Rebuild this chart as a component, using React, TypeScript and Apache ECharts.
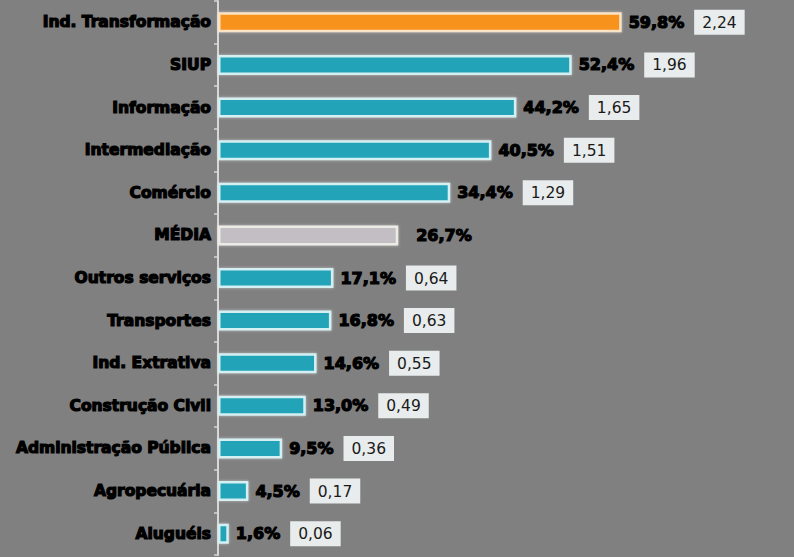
import React, { useEffect, useRef } from "react";
import * as echarts from "echarts";

const categories = [
  "Ind. Transformação",
  "SIUP",
  "Informação",
  "Intermediação",
  "Comércio",
  "MÉDIA",
  "Outros serviços",
  "Transportes",
  "Ind. Extrativa",
  "Construção Civil",
  "Administração Pública",
  "Agropecuária",
  "Aluguéis",
];
const percentValues = [59.8, 52.4, 44.2, 40.5, 34.4, 26.7, 17.1, 16.8, 14.6, 13.0, 9.5, 4.5, 1.6];
const ratioValues: (number | null)[] = [2.24, 1.96, 1.65, 1.51, 1.29, null, 0.64, 0.63, 0.55, 0.49, 0.36, 0.17, 0.06];

const fmt = (v: number, d: number) => v.toFixed(d).replace(".", ",");

export default function App() {
  const ref = useRef<HTMLDivElement>(null);
  useEffect(() => {
    if (!ref.current) return;
    const chart = echarts.init(ref.current, undefined, { renderer: "svg" });
    const data = percentValues.map((v, i) => {
      const cat = categories[i];
      let color = "#22a3b8";
      let border = "#d4f0f3";
      if (i === 0) {
        color = "#f7921f";
        border = "#fbe3c4";
      } else if (cat === "MÉDIA") {
        color = "#c3bec4";
        border = "#ecebe6";
      }
      return {
        value: v,
        itemStyle: { color, borderColor: border, borderWidth: 2.5, shadowColor: "rgba(255,255,255,0.5)", shadowBlur: 3 },
        label: cat === "MÉDIA" ? { distance: 18 } : undefined,
      };
    });
    chart.setOption({
      animation: false,
      backgroundColor: "#808080",
      grid: { left: 218, right: 36, top: 1, bottom: 2, containLabel: false },
      xAxis: {
        type: "value",
        min: 0,
        max: 80,
        show: false,
      },
      yAxis: {
        type: "category",
        inverse: true,
        data: categories,
        axisLine: { show: true, lineStyle: { color: "#d6d6d6", width: 2 } },
        axisTick: { show: true, length: 4, lineStyle: { color: "#d6d6d6", width: 1.5 } },
        axisLabel: {
          color: "#000",
          fontFamily: "DejaVu Sans",
          fontWeight: "bold",
          fontSize: 15.5,
          margin: 7,
          textBorderColor: "#000",
          textBorderWidth: 1.2,
        },
        splitLine: { show: false },
      },
      series: [
        {
          type: "bar",
          data,
          barWidth: 20,
          label: {
            show: true,
            position: "right",
            distance: 7,
            formatter: (p: any) => {
              const r = ratioValues[p.dataIndex];
              const pct = `{p|${fmt(p.value, 1)}%}`;
              return r === null ? pct : `${pct}{g|}{b|${fmt(r, 2)}}`;
            },
            rich: {
              p: {
                color: "#000",
                fontFamily: "DejaVu Sans",
                fontWeight: "bold",
                fontSize: 16,
                textBorderColor: "#000",
                textBorderWidth: 1.2,
              },
              g: { width: 10 },
              b: {
                color: "#1a1a1a",
                fontFamily: "DejaVu Sans",
                fontSize: 15.5,
                backgroundColor: "#e8ecec",
                padding: [5, 8, 4, 8],
              },
            },
          },
        },
      ],
    });
    return () => chart.dispose();
  }, []);
  return <div ref={ref} style={{ width: 794, height: 557, position: "absolute", left: 0, top: 0 }} />;
}
